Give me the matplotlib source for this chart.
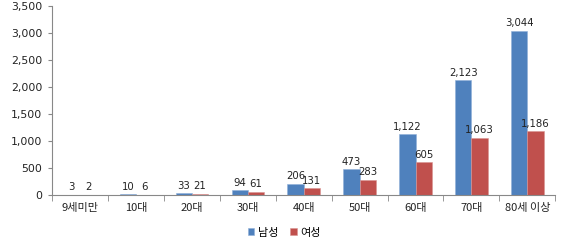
import matplotlib
matplotlib.use("Agg")
import matplotlib.pyplot as plt
import numpy as np

categories = ["9세미만", "10대", "20대", "30대", "40대", "50대", "60대", "70대", "80세 이상"]
male = [3, 10, 33, 94, 206, 473, 1122, 2123, 3044]
female = [2, 6, 21, 61, 131, 283, 605, 1063, 1186]
series_names = ["남성", "여성"]
yticks = [0, 500, 1000, 1500, 2000, 2500, 3000, 3500]

plt.rcParams['font.family'] = ['DejaVu Sans', 'Noto Sans CJK KR']
kfont = ['Noto Sans CJK KR', 'DejaVu Sans']

fig = plt.figure(figsize=(5.63, 2.45), dpi=100)
ax = fig.add_axes([0.0924, 0.204, 0.894, 0.7715])

x = np.arange(len(categories))
w = 0.29
blue = "#4F81BD"
red = "#C0504D"
b1 = ax.bar(x - w/2, male, w, color=blue, edgecolor="#8FB0D8", linewidth=0.4, label=series_names[0])
b2 = ax.bar(x + w/2, female, w, color=red, edgecolor="#D89593", linewidth=0.4, label=series_names[1])

for bars, vals in ((b1, male), (b2, female)):
    for rect, v in zip(bars, vals):
        ax.text(rect.get_x() + rect.get_width()/2, v + 45, f"{v:,}",
                ha="center", va="bottom", fontsize=7.3, color="#222222")

ax.set_xlim(-0.5, len(categories) - 0.5)
ax.set_ylim(0, 3500)
ax.set_yticks(yticks)
ax.set_yticklabels([f"{t:,}" for t in yticks], fontsize=7.8, color="#222222")
ax.set_xticks(x)
ax.set_xticklabels(categories, family=kfont, fontsize=8, color="#222222")
ax.set_xticks(np.arange(len(categories) + 1) - 0.5, minor=True)
ax.tick_params(axis='x', which='major', length=0, pad=6)
ax.tick_params(axis='x', which='minor', length=4, color="#888888")
ax.tick_params(axis='y', length=3, color="#888888", pad=4)

for s in ("top", "right"):
    ax.spines[s].set_visible(False)
for s in ("left", "bottom"):
    ax.spines[s].set_color("#888888")
    ax.spines[s].set_linewidth(0.8)

leg = fig.legend(handles=[b1, b2], loc="center", bbox_to_anchor=(0.505, 0.05),
                 ncol=2, frameon=False, prop={'family': kfont, 'size': 8},
                 handlelength=0.55, handleheight=0.55, handletextpad=0.35, columnspacing=1.1)

fig.savefig("out.png", dpi=100)
